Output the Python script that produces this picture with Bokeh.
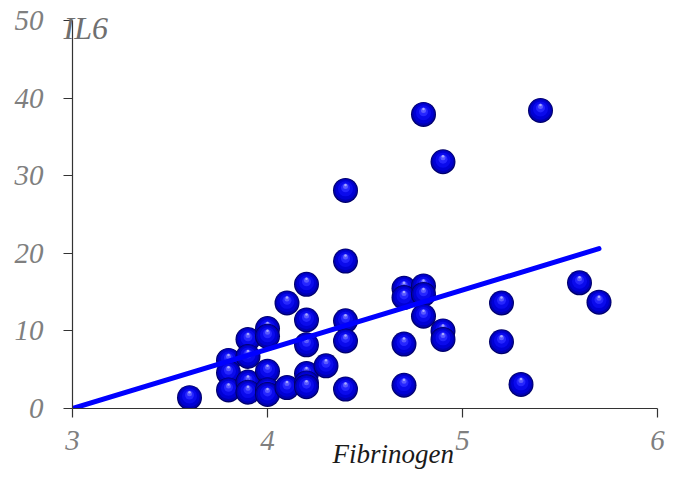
from bokeh.plotting import figure
from bokeh.models import Range1d, FixedTicker, ColumnDataSource, Title
from bokeh.embed import file_html
from bokeh.resources import INLINE

# ---- data ----
fibrinogen = [3.6,
              3.8, 3.8, 3.8,
              3.9, 3.9, 3.9, 3.9,
              4.0, 4.0, 4.0, 4.0, 4.0,
              4.1, 4.1,
              4.2, 4.2, 4.2, 4.2, 4.2, 4.2,
              4.3,
              4.4, 4.4, 4.4, 4.4, 4.4,
              4.7, 4.7, 4.7, 4.7,
              4.8, 4.8, 4.8, 4.8,
              4.9, 4.9, 4.9,
              5.2, 5.2,
              5.3, 5.4, 5.6, 5.7]
il6 = [1.4,
       6.2, 4.6, 2.4,
       8.9, 6.7, 3.4, 2.1,
       10.3, 9.3, 4.8, 2.4, 1.8,
       13.6, 2.7,
       16.0, 11.4, 8.2, 4.5, 3.3, 2.8,
       5.5,
       28.1, 19.0, 11.3, 8.7, 2.5,
       15.5, 14.3, 8.3, 3.0,
       37.9, 15.8, 14.7, 11.9,
       31.8, 10.0, 8.9,
       13.6, 8.6,
       3.1, 38.4, 16.2, 13.7]
trend_x = [3.0, 5.7]
trend_y = [0.0, 20.6]
x_ticks = [3, 4, 5, 6]
y_ticks = [0, 10, 20, 30, 40, 50]
x_title = "Fibrinogen"
y_title = "IL6"

X0, X1, Y0, Y1 = 3, 6, 0, 50
W, H = 680, 477
BL, BR, BT, BB = 72, 23, 20, 69
frame_h = H - BT - BB
dy_px = (Y1 - Y0) / frame_h

p = figure(width=W, height=H, x_range=Range1d(X0, X1), y_range=Range1d(Y0, Y1),
           output_backend="svg", toolbar_location=None,
           min_border_left=BL, min_border_right=BR, min_border_top=BT, min_border_bottom=BB)
p.outline_line_color = None
p.grid.visible = False
p.background_fill_color = "white"
p.border_fill_color = "white"

for ax in (p.xaxis[0], p.yaxis[0]):
    ax.axis_line_color = "#333333"
    ax.axis_line_width = 1.2
    ax.major_tick_line_color = "#333333"
    ax.major_tick_line_width = 1.2
    ax.major_tick_in = 0
    ax.major_tick_out = 9
    ax.minor_tick_line_color = None
    ax.major_label_text_font = "Liberation Serif"
    ax.major_label_text_font_style = "italic"
    ax.major_label_text_font_size = "29px"
    ax.major_label_text_color = "#7f7f7f"
p.xaxis.ticker = FixedTicker(ticks=x_ticks)
p.yaxis.ticker = FixedTicker(ticks=y_ticks)
p.xaxis.major_label_standoff = 13
p.yaxis.major_label_standoff = 20

p.add_layout(Title(text=y_title, align="left", offset=-9, standoff=-50,
                   vertical_align="bottom",
                   text_font="Liberation Serif", text_font_style="italic",
                   text_font_size="32px", text_color="#6f6f6f"), "above")
p.add_layout(Title(text=x_title, align="left", offset=260, standoff=-28,
                   vertical_align="top",
                   text_font="Liberation Serif", text_font_style="italic",
                   text_font_size="27px", text_color="#1a1a1a"), "below")

# spheres: layered circles per point (edge -> highlight)
layers = [  # size px, color, upward offset px
    (25, "#00006a", 0.0),
    (23, "#0000b0", 0.3),
    (20, "#0000d4", 0.8),
    (15, "#0a0aec", 1.6),
    (9, "#2626ff", 2.6),
    (5, "#5a5aff", 4.0),
    (2.5, "#a8a8ff", 5.5),
]
xs, ys, ss, cs = [], [], [], []
for fx, iy in zip(fibrinogen, il6):
    for s, c, off in layers:
        xs.append(fx)
        ys.append(iy + off * dy_px)
        ss.append(s)
        cs.append(c)
src = ColumnDataSource(dict(x=xs, y=ys, size=ss, color=cs))
p.scatter("x", "y", size="size", fill_color="color", line_color=None, source=src)

p.line(trend_x, trend_y, line_color="#0000ff", line_width=5, line_cap="round")

open("out.html", "w").write(file_html(p, INLINE))
